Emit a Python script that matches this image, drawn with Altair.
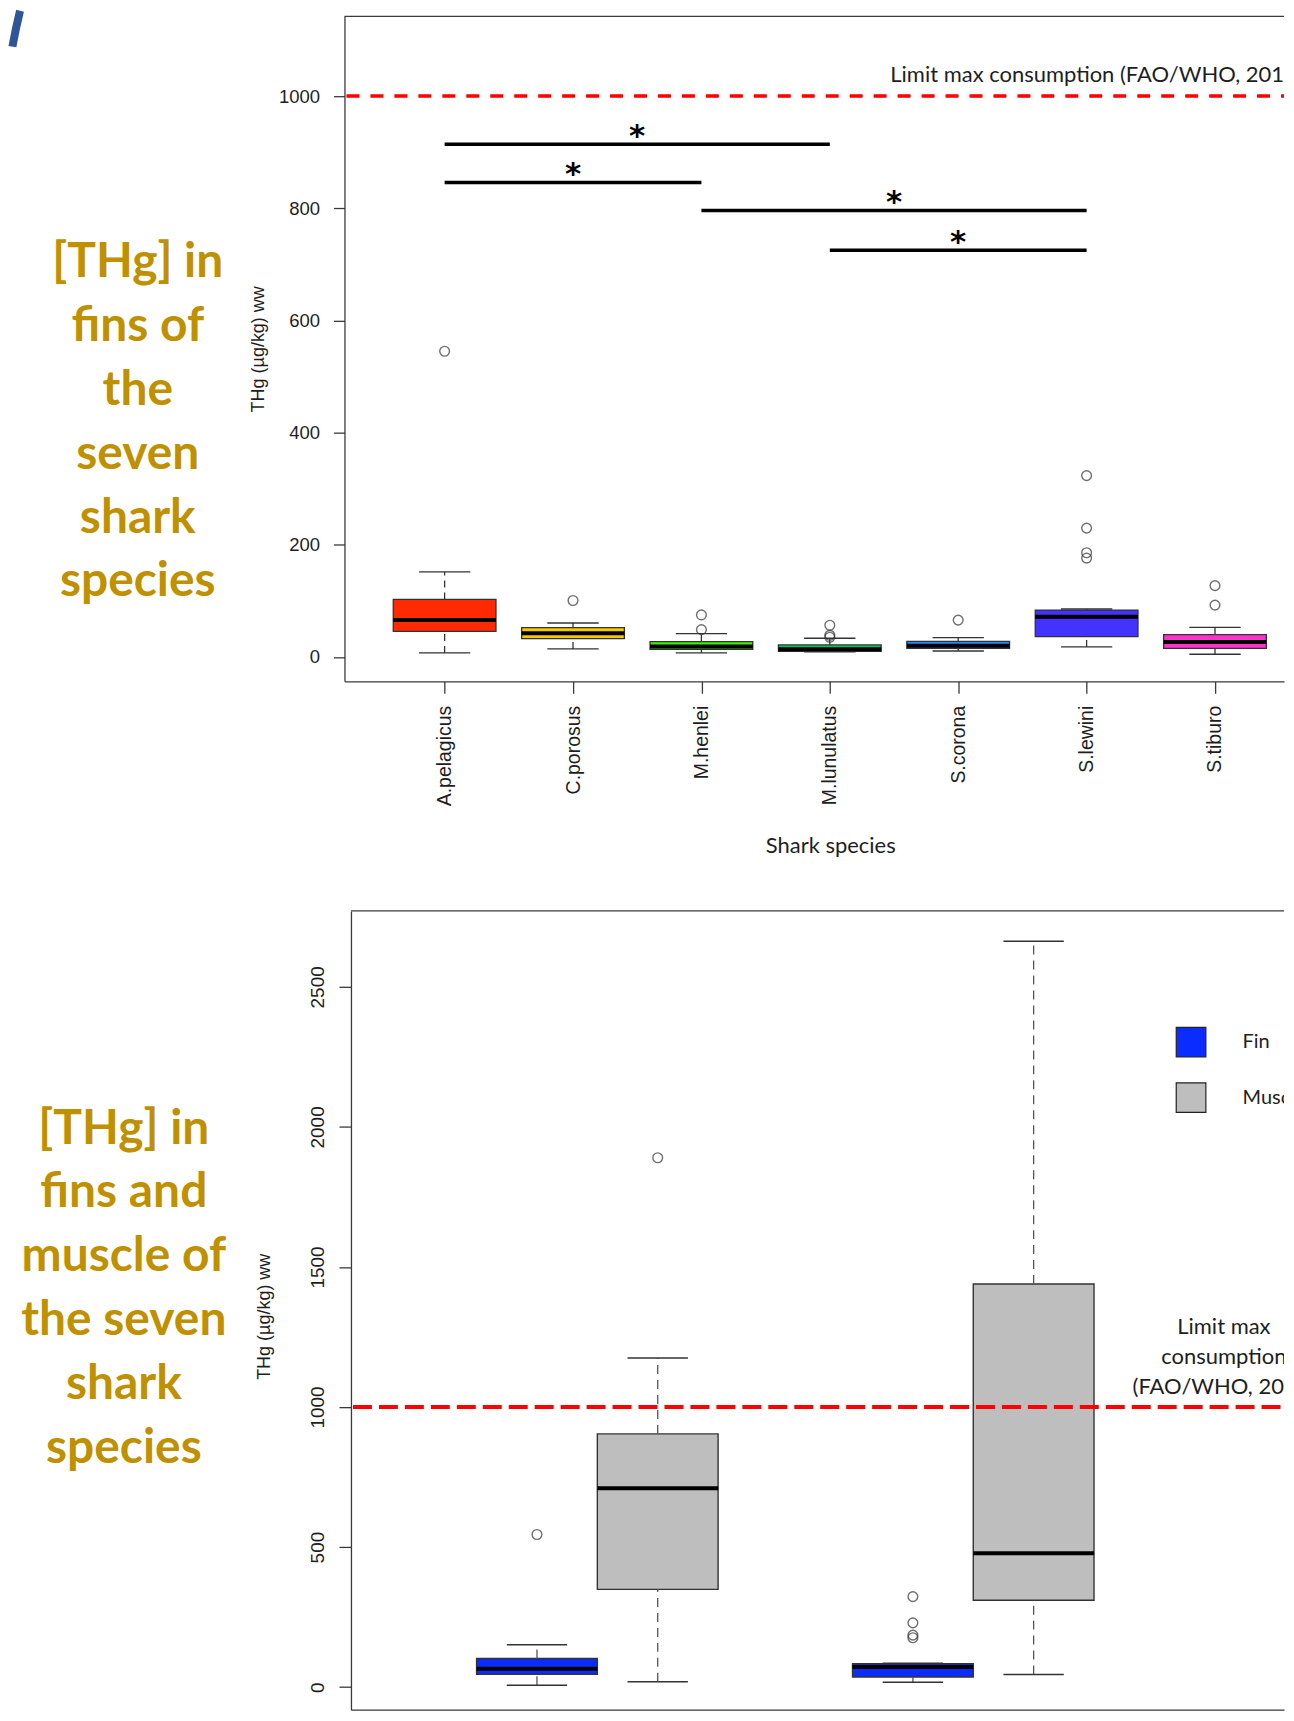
import altair as alt
import numpy as np
import pandas as pd

# ---------------- data (µg/kg ww) ----------------
species = ["A.pelagicus", "C.porosus", "M.henlei", "M.lunulatus", "S.corona", "S.lewini", "S.tiburo"]
species_colors = ["#FF2A00", "#F5C800", "#44EE00", "#00C46A", "#1A8CFF", "#4433FF", "#FF33CC"]
fin_low = [7.1, 14.2, 7.1, 9.2, 10.5, 17.8, 4.6]
fin_q1 = [45.5, 32.5, 13.5, 10.0, 15.3, 36.1, 15.3]
fin_median = [65.8, 42.0, 18.5, 13.5, 19.8, 71.5, 26.5]
fin_q3 = [102.5, 52.2, 27.2, 21.3, 27.8, 83.5, 39.8]
fin_high = [151.5, 60.5, 41.5, 33.2, 34.4, 85.4, 52.7]
fin_out_species = ["A.pelagicus", "C.porosus", "M.henlei", "M.henlei", "M.lunulatus", "M.lunulatus",
                   "M.lunulatus", "S.corona", "S.lewini", "S.lewini", "S.lewini", "S.lewini",
                   "S.tiburo", "S.tiburo"]
fin_out_values = [545, 100.5, 74.8, 48.5, 56.5, 38.5, 35.0, 65.5, 323.3, 229.6, 185.7, 176.2, 127.0, 92.3]

sig_from = ["A.pelagicus", "A.pelagicus", "M.henlei", "M.lunulatus"]
sig_to = ["M.lunulatus", "M.henlei", "S.lewini", "S.lewini"]
sig_level = [914, 846, 796, 725]

limit_value = [1000]

two_species = ["A.pelagicus", "S.lewini"]
tissue_names = ["Fin", "Muscle"]
tissue_colors = ["#0A2CFF", "#BEBEBE"]
tis_species = ["A.pelagicus", "A.pelagicus", "S.lewini", "S.lewini"]
tis_tissue = ["Fin", "Muscle", "Fin", "Muscle"]
tis_low = [7.1, 19, 17.8, 45]
tis_q1 = [45.5, 349, 36.1, 310]
tis_median = [65.8, 710, 71.5, 478]
tis_q3 = [102.5, 904, 83.5, 1439]
tis_high = [151.5, 1175, 85.4, 2663]
tis_out_species = ["A.pelagicus", "A.pelagicus", "S.lewini", "S.lewini", "S.lewini", "S.lewini"]
tis_out_tissue = ["Fin", "Muscle", "Fin", "Fin", "Fin", "Fin"]
tis_out_values = [545, 1890, 323.3, 229.6, 185.7, 176.2]

top_note = "Limit max consumption (FAO/WHO, 2011)"
bottom_note = ["Limit max", "consumption", "(FAO/WHO, 2011)"]
top_side = ["[THg] in", "fins of", "the", "seven", "shark", "species"]
bottom_side = ["[THg] in", "fins and", "muscle of", "the seven", "shark", "species"]
y_title = "THg (µg/kg) ww"
x_title = "Shark species"

# ---------------- layout / style constants ----------------
FRAME = "#3a3a3a"
INK = "#1e1e1e"
GOLD = "#BF9000"
SLIDE_BLUE = "#2F5597"
W, H1, H2 = 941, 666, 800
LEFT = 337            # room left of both plot areas
SHIFT2 = 6.5          # bottom frame starts a little right of the top one
X1 = alt.Scale(domain=[0.22, 7.5374], nice=False, zero=False)
Y1 = alt.Scale(domain=[-43.5, 1142.2], nice=False, zero=False)
X2 = alt.Scale(domain=[0.3446, 2.8266], range=[SHIFT2, W], nice=False, zero=False)
Y2 = alt.Scale(domain=[-80.4, 2771], nice=False, zero=False)
BOX1, CAP1 = 0.4, 0.2
T_OFF = 0.1606
BOX2, CAP2 = T_OFF, T_OFF / 2
OUT_SIZE = 95

one = pd.DataFrame({"k": [0]})

# ---------------- top panel: fins of seven species ----------------
pos_of = {s: i + 1 for i, s in enumerate(species)}
fins = pd.DataFrame({"species": species, "color": species_colors, "low": fin_low, "q1": fin_q1,
                     "med": fin_median, "q3": fin_q3, "high": fin_high})
fins["pos"] = fins["species"].map(pos_of)
fin_out = pd.DataFrame({"species": fin_out_species, "value": fin_out_values})
fin_out["pos"] = fin_out["species"].map(pos_of)
sig = pd.DataFrame({"a": [pos_of[s] for s in sig_from], "b": [pos_of[s] for s in sig_to],
                    "level": sig_level})
sig["mid"] = (sig["a"] + sig["b"]) / 2
limit = pd.DataFrame({"v": limit_value})

label_expr = "[" + ",".join("'%s'" % s for s in species) + "][datum.value - 1]"
x1_axis = alt.Axis(values=list(range(1, len(species) + 1)), labelExpr=label_expr, title=None,
                   grid=False, labelAngle=-90, labelAlign="right", labelBaseline="middle",
                   labelFont="Liberation Sans", labelFontSize=19.5, labelColor=INK,
                   labelPadding=12, tickSize=12, tickColor=FRAME, tickWidth=1.3,
                   domainColor=FRAME, domainWidth=1.3, labelOverlap=False)
y1_axis = alt.Axis(values=[0, 200, 400, 600, 800, 1000], format="d", title=y_title, grid=False,
                   labelFont="Liberation Sans", labelFontSize=18.5, labelColor=INK,
                   labelPadding=14, tickSize=11, tickColor=FRAME, tickWidth=1.3,
                   domainColor=FRAME, domainWidth=1.3, labelOverlap=False,
                   titleFont="Liberation Sans", titleFontSize=18, titleFontWeight="normal",
                   titleColor=INK, titleX=-86, titleY=333, titleAngle=270,
                   titleAlign="center", titleBaseline="middle")


def tx(field):
    return alt.X(field, type="quantitative", scale=X1, axis=x1_axis)


def ty(field):
    return alt.Y(field, type="quantitative", scale=Y1, axis=y1_axis)


fb = alt.Chart(fins).transform_calculate(
    l="datum.pos - %f" % BOX1, r="datum.pos + %f" % BOX1,
    cl="datum.pos - %f" % CAP1, cr="datum.pos + %f" % CAP1)

t_box = fb.mark_rect(stroke="#333", strokeWidth=1.3).encode(
    x=tx("l"), x2="r:Q", y=ty("q1"), y2="q3:Q", fill=alt.Fill("color:N", scale=None))
t_whisk_up = fb.mark_rule(color="#333", strokeWidth=1.3, strokeDash=[7, 5]).encode(
    x=tx("pos"), y=ty("q3"), y2="high:Q")
t_whisk_lo = fb.mark_rule(color="#333", strokeWidth=1.3, strokeDash=[7, 5]).encode(
    x=tx("pos"), y=ty("low"), y2="q1:Q")
t_cap_hi = fb.mark_rule(color="#333", strokeWidth=1.4).encode(x=tx("cl"), x2="cr:Q", y=ty("high"))
t_cap_lo = fb.mark_rule(color="#333", strokeWidth=1.4).encode(x=tx("cl"), x2="cr:Q", y=ty("low"))
t_med = fb.mark_rule(color="black", strokeWidth=4).encode(x=tx("l"), x2="r:Q", y=ty("med"))
t_out = alt.Chart(fin_out).mark_point(shape="circle", filled=False, size=OUT_SIZE, color="#333",
                                      strokeWidth=1.4).encode(x=tx("pos"), y=ty("value"))
t_limit = alt.Chart(limit).mark_rule(color="#FF0000", strokeWidth=3.5, strokeDash=[13, 11]).encode(
    y=ty("v"), x=alt.value(2), x2=alt.value(W))
t_note = alt.Chart(one).mark_text(text=top_note, font="Lato", fontSize=22, color=INK, align="left",
                                  baseline="alphabetic", clip=True).encode(
    x=alt.value(546.7), y=alt.value(65.5))
t_sig = alt.Chart(sig).mark_rule(color="black", strokeWidth=3.5).encode(
    x=tx("a"), x2="b:Q", y=ty("level"))
t_star = alt.Chart(sig).mark_text(text="*", font="DejaVu Sans", fontWeight="bold", fontSize=31,
                                  color="black", baseline="alphabetic", dy=2).encode(
    x=tx("mid"), y=ty("level"))
t_frame = alt.Chart(one).mark_rule(color=FRAME, strokeWidth=1.3).encode(
    x=alt.value(0), x2=alt.value(W), y=alt.value(0))
t_xtitle = alt.Chart(one).mark_text(text=x_title, font="Lato", fontSize=22, color=INK,
                                    align="center", baseline="alphabetic").encode(
    x=alt.value(487), y=alt.value(838.3))
t_side = alt.Chart(one).mark_text(text=top_side, font="Lato", fontSize=48, fontWeight="bold",
                                  color=GOLD, align="center", baseline="alphabetic",
                                  lineHeight=64).encode(x=alt.value(-207), y=alt.value(261))
# slide decoration: edge of the large blue circle in the top-left corner
t_deco = alt.Chart(one).mark_arc(radius=604, radius2=596, theta=4.8909, theta2=4.9521,
                                 color=SLIDE_BLUE).encode(
    x=alt.value(602.9 - 8 - LEFT), y=alt.value(151.9 - 15))
t_anchor = alt.Chart(one).mark_rect(opacity=0).encode(
    x=alt.value(-LEFT), x2=alt.value(-LEFT + 1), y=alt.value(-7), y2=alt.value(865))

top = alt.layer(t_box, t_whisk_up, t_whisk_lo, t_cap_hi, t_cap_lo, t_med, t_out, t_limit,
                t_sig, t_star, t_note, t_frame, t_xtitle, t_side, t_deco, t_anchor).properties(
    width=W, height=H1)

# ---------------- bottom panel: fins vs muscle ----------------
sp_idx = {s: i + 1 for i, s in enumerate(two_species)}
col_of = dict(zip(tissue_names, tissue_colors))
tis = pd.DataFrame({"species": tis_species, "tissue": tis_tissue, "low": tis_low, "q1": tis_q1,
                    "med": tis_median, "q3": tis_q3, "high": tis_high})
tis["color"] = tis["tissue"].map(col_of)
tis["pos"] = tis["species"].map(sp_idx) + np.where(tis["tissue"] == "Fin", -T_OFF, T_OFF)
tis_out = pd.DataFrame({"species": tis_out_species, "tissue": tis_out_tissue, "value": tis_out_values})
tis_out["pos"] = tis_out["species"].map(sp_idx) + np.where(tis_out["tissue"] == "Fin", -T_OFF, T_OFF)
legend_df = pd.DataFrame({"label": tissue_names, "color": tissue_colors,
                          "row": list(range(len(tissue_names)))})

x2_axis = alt.Axis(ticks=False, labels=False, title=None, grid=False, domainColor=FRAME,
                   domainWidth=1.3)
y2_axis = alt.Axis(values=[0, 500, 1000, 1500, 2000, 2500], format="d", title=y_title, grid=False,
                   offset=-SHIFT2,
                   labelAngle=270, labelAlign="center", labelBaseline="bottom",
                   labelFont="Liberation Sans", labelFontSize=19, labelColor=INK,
                   labelPadding=12, tickSize=12, tickColor=FRAME, tickWidth=1.3,
                   domainColor=FRAME, domainWidth=1.3, labelOverlap=False,
                   titleFont="Liberation Sans", titleFontSize=18, titleFontWeight="normal",
                   titleColor=INK, titleX=-87, titleY=406, titleAngle=270,
                   titleAlign="center", titleBaseline="middle")


def bx(field):
    return alt.X(field, type="quantitative", scale=X2, axis=x2_axis)


def by(field):
    return alt.Y(field, type="quantitative", scale=Y2, axis=y2_axis)


tb = alt.Chart(tis).transform_calculate(
    l="datum.pos - %f" % BOX2, r="datum.pos + %f" % BOX2,
    cl="datum.pos - %f" % CAP2, cr="datum.pos + %f" % CAP2)

b_box = tb.mark_rect(stroke="#333", strokeWidth=1.4).encode(
    x=bx("l"), x2="r:Q", y=by("q1"), y2="q3:Q", fill=alt.Fill("color:N", scale=None))
b_whisk_up = tb.mark_rule(color="#555", strokeWidth=1.3, strokeDash=[9, 6]).encode(
    x=bx("pos"), y=by("q3"), y2="high:Q")
b_whisk_lo = tb.mark_rule(color="#555", strokeWidth=1.3, strokeDash=[9, 6]).encode(
    x=bx("pos"), y=by("low"), y2="q1:Q")
b_cap_hi = tb.mark_rule(color="#333", strokeWidth=1.5).encode(x=bx("cl"), x2="cr:Q", y=by("high"))
b_cap_lo = tb.mark_rule(color="#333", strokeWidth=1.5).encode(x=bx("cl"), x2="cr:Q", y=by("low"))
b_med = tb.mark_rule(color="black", strokeWidth=4).encode(x=bx("l"), x2="r:Q", y=by("med"))
b_out = alt.Chart(tis_out).mark_point(shape="circle", filled=False, size=OUT_SIZE, color="#333",
                                      strokeWidth=1.4).encode(x=bx("pos"), y=by("value"))
b_limit = alt.Chart(limit).mark_rule(color="#FF0000", strokeWidth=4, strokeDash=[19, 7]).encode(
    y=by("v"), x=alt.value(SHIFT2 + 2), x2=alt.value(W))
b_note = alt.Chart(one).mark_text(text=bottom_note, font="Lato", fontSize=22, color=INK,
                                  align="center", baseline="alphabetic", lineHeight=30.5,
                                  clip=True).encode(x=alt.value(880.8), y=alt.value(423.3))
b_leg_sym = alt.Chart(legend_df).transform_calculate(py="131.5 + 55.5 * datum.row").mark_square(
    size=880, stroke="#222", strokeWidth=1.2, opacity=1).encode(
    x=alt.value(847.9), y=alt.Y("py:Q", scale=None, axis=None),
    fill=alt.Fill("color:N", scale=None))
b_leg_txt = alt.Chart(legend_df).transform_calculate(py="131.5 + 55.5 * datum.row").mark_text(
    font="Lato", fontSize=20, color=INK, align="left", baseline="middle", clip=True).encode(
    x=alt.value(899.5), y=alt.Y("py:Q", scale=None, axis=None), text="label:N")
b_frame = alt.Chart(one).mark_rule(color=FRAME, strokeWidth=1.3).encode(
    x=alt.value(SHIFT2), x2=alt.value(W), y=alt.value(0))
b_side = alt.Chart(one).mark_text(text=bottom_side, font="Lato", fontSize=48, fontWeight="bold",
                                  color=GOLD, align="center", baseline="alphabetic",
                                  lineHeight=64).encode(x=alt.value(-221), y=alt.value(233))
b_anchor = alt.Chart(one).mark_rect(opacity=0).encode(
    x=alt.value(-LEFT), x2=alt.value(-LEFT + 1), y=alt.value(-31), y2=alt.value(10))

bottom = alt.layer(b_box, b_whisk_up, b_whisk_lo, b_cap_hi, b_cap_lo, b_med, b_out,
                   b_limit, b_note, b_leg_sym, b_leg_txt, b_frame, b_side, b_anchor).properties(
    width=W, height=H2)

chart = alt.concat(top, bottom, columns=1, spacing=0, bounds="full").properties(
    padding={"left": 0, "top": 0, "right": 0, "bottom": 0}).configure_view(stroke=None)

chart.save("out.html", embed_options={"renderer": "svg", "actions": False})
